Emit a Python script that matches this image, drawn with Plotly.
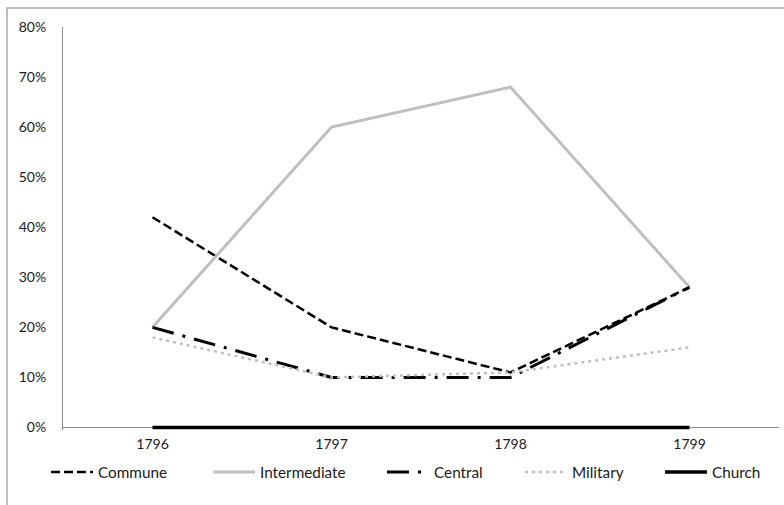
import plotly.graph_objects as go

years = ["1796", "1797", "1798", "1799"]
commune = [0.42, 0.20, 0.11, 0.28]
intermediate = [0.20, 0.60, 0.68, 0.28]
central = [0.20, 0.10, 0.10, 0.28]
military = [0.18, 0.10, 0.11, 0.16]
church = [0.0, 0.0, 0.0, 0.0]

FONT = "Lato"
GRAY = "#BFBFBF"
AXIS = "#8C8C8C"

W, H = 784, 505
L, R, T, B = 63, 5, 27, 75
pw = W - L - R
ph = H - T - B


def px_x(p):
    return (p - L) / pw


def px_y(p):
    return (H - B - p) / ph


series = [
    ("Commune", commune, dict(color="black", width=2.5, dash="9px,4px"), 51),
    ("Intermediate", intermediate, dict(color=GRAY, width=3), 213),
    ("Central", central, dict(color="black", width=3, dash="22px,9px,3px,9px"), 387),
    ("Military", military, dict(color=GRAY, width=2.5, dash="3px,4px"), 525),
    ("Church", church, dict(color="black", width=3.5), 665),
]

fig = go.Figure()
legend_layout = {}
for i, (name, vals, line, lx) in enumerate(series):
    lname = "legend" if i == 0 else f"legend{i+1}"
    fig.add_trace(go.Scatter(x=years, y=vals, name=name, mode="lines", line=line,
                             legend=lname))
    legend_layout[lname] = dict(
        x=px_x(lx - 5), xanchor="left", y=px_y(472), yanchor="middle",
        bgcolor="rgba(0,0,0,0)", borderwidth=0, itemwidth=42,
        font=dict(family=FONT, size=15.3, color="#1a1a1a"),
        tracegroupgap=0,
    )

fig.update_layout(
    width=W, height=H,
    margin=dict(l=L, r=R, t=T, b=B),
    paper_bgcolor="white", plot_bgcolor="white",
    font=dict(family=FONT, size=14, color="#1a1a1a"),
    showlegend=True,
    **legend_layout,
    shapes=[dict(type="rect", xref="paper", yref="paper",
                 x0=px_x(7), x1=px_x(795), y0=px_y(515), y1=px_y(8),
                 line=dict(color="#ABABAB", width=1.5), layer="below")],
)

fig.update_xaxes(type="category", range=[-0.5, 3.5], showgrid=False, showline=False,
                 zeroline=False, ticks="", ticklabelstandoff=4,
                 tickfont=dict(family=FONT, size=14, color="#1a1a1a"))
fig.update_yaxes(range=[-0.005, 0.8], dtick=0.1, tickformat=".0%", showgrid=False,
                 showline=True, linecolor=AXIS, linewidth=1, zeroline=True,
                 zerolinecolor=AXIS, zerolinewidth=1, ticks="", ticklabelstandoff=13,
                 layer="below traces",
                 tickfont=dict(family=FONT, size=14, color="#1a1a1a"))

fig.write_html("out.html", config={"displayModeBar": False},
               post_script="document.body.style.margin='0';")
